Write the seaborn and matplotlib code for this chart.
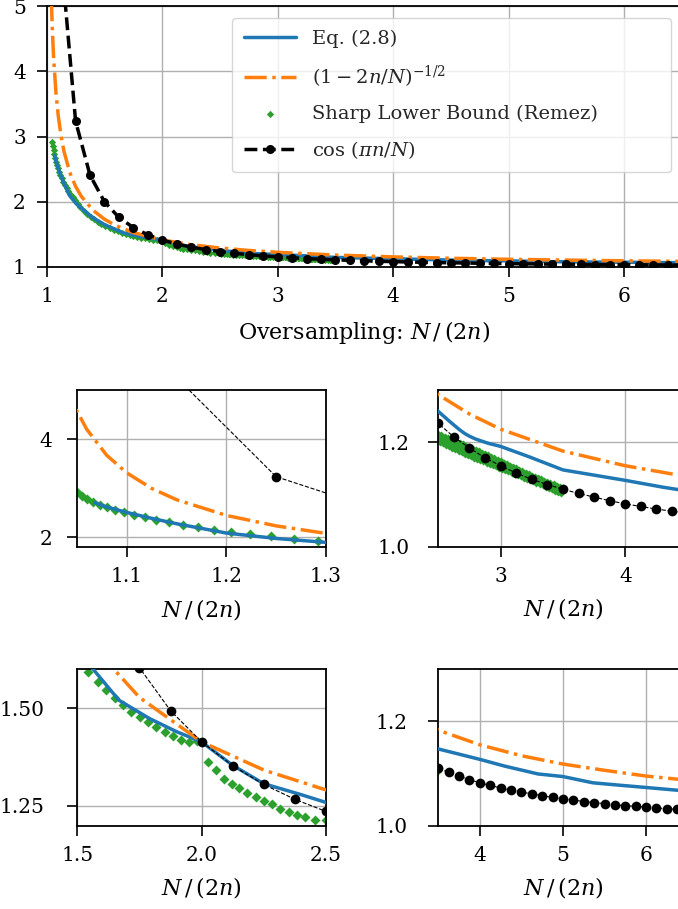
import matplotlib
matplotlib.use("Agg")
import matplotlib.pyplot as plt
import seaborn as sns
import numpy as np
import pandas as pd

# ---------------- data ----------------
# Eq. (2.8)
eq_x = [1.068, 1.08, 1.10, 1.125, 1.15, 1.20, 1.25, 1.30, 1.40, 1.50, 1.564, 1.667,
        1.79, 1.90, 2.00, 2.125, 2.25, 2.40, 2.50, 2.59, 2.67, 2.71, 2.75, 2.80,
        2.90, 3.00, 3.23, 3.50, 4.00, 4.30, 4.70, 5.00, 5.36, 5.64, 6.00, 6.50]
eq_y = [2.71, 2.62, 2.51, 2.39, 2.28, 2.09, 1.98, 1.90, 1.755, 1.65, 1.60, 1.521,
        1.474, 1.44, 1.414, 1.354, 1.307, 1.279, 1.259, 1.240, 1.224, 1.217, 1.2115, 1.206,
        1.198, 1.192, 1.172, 1.147, 1.127, 1.114, 1.099, 1.094, 1.082, 1.078, 1.073, 1.066]

# (1 - 2n/N)^(-1/2)
pw_x = [1.03, 1.04, 1.05, 1.06, 1.08, 1.10, 1.125, 1.15, 1.20, 1.25, 1.30, 1.40,
        1.50, 1.60, 1.75, 2.00, 2.25, 2.50, 2.75, 3.00, 3.50, 4.00, 4.50, 5.00,
        5.50, 6.00, 6.50]
pw_y = [5.859, 5.099, 4.583, 4.203, 3.674, 3.317, 3.000, 2.769, 2.449, 2.236, 2.082, 1.871,
        1.732, 1.633, 1.528, 1.414, 1.342, 1.291, 1.254, 1.225, 1.183, 1.155, 1.134, 1.118,
        1.106, 1.095, 1.087]

# Sharp lower bound (Remez): x < 2.5
rm_x = [1.050, 1.055, 1.060, 1.066, 1.073, 1.080, 1.088, 1.097, 1.107, 1.118, 1.130,
        1.143, 1.157, 1.172, 1.188, 1.205, 1.224, 1.245, 1.268, 1.292, 1.320, 1.350,
        1.380, 1.410, 1.440, 1.470, 1.505, 1.544, 1.584, 1.617, 1.651, 1.684, 1.717,
        1.751, 1.784, 1.817, 1.851, 1.884, 1.917, 1.951, 1.980, 2.000, 2.024, 2.057,
        2.091, 2.124, 2.151, 2.184, 2.217, 2.251, 2.284, 2.317, 2.351, 2.384, 2.417,
        2.457]
rm_y = [2.92, 2.85, 2.79, 2.73, 2.67, 2.61, 2.56, 2.51, 2.46, 2.41, 2.36,
        2.31, 2.26, 2.21, 2.16, 2.12, 2.07, 2.02, 1.97, 1.92, 1.865, 1.815,
        1.77, 1.73, 1.695, 1.66, 1.625, 1.594, 1.568, 1.547, 1.526, 1.509, 1.491,
        1.479, 1.466, 1.451, 1.440, 1.429, 1.420, 1.414, 1.416, 1.414, 1.363, 1.342,
        1.320, 1.307, 1.295, 1.283, 1.273, 1.263, 1.254, 1.243, 1.235, 1.228, 1.222,
        1.213]
# Sharp lower bound (Remez): dense band 2.5 - 3.5 (upper / lower edge of the band)
rm_band_x = [2.5000, 2.5125, 2.5250, 2.5375, 2.5500, 2.5625, 2.5750, 2.5875, 2.6000, 2.6125,
             2.6250, 2.6375, 2.6500, 2.6625, 2.6750, 2.6875, 2.7000, 2.7125, 2.7250, 2.7375,
             2.7500, 2.7625, 2.7750, 2.7875, 2.8000, 2.8125, 2.8250, 2.8375, 2.8500, 2.8625,
             2.8750, 2.8875, 2.9000, 2.9125, 2.9250, 2.9375, 2.9500, 2.9625, 2.9750, 2.9875,
             3.0000, 3.0125, 3.0250, 3.0375, 3.0500, 3.0625, 3.0750, 3.0875, 3.1000, 3.1125,
             3.1250, 3.1375, 3.1500, 3.1625, 3.1750, 3.1875, 3.2000, 3.2125, 3.2250, 3.2375,
             3.2500, 3.2625, 3.2750, 3.2875, 3.3000, 3.3125, 3.3250, 3.3375, 3.3500, 3.3625,
             3.3750, 3.3875, 3.4000, 3.4125, 3.4250, 3.4375, 3.4500, 3.4625, 3.4750, 3.4875,
             3.5000]
rm_band_y = [1.2140, 1.2026, 1.2115, 1.1997, 1.2090, 1.1968, 1.2065, 1.1939, 1.2040, 1.1911,
             1.2015, 1.1882, 1.1990, 1.1853, 1.1965, 1.1824, 1.1940, 1.1798, 1.1913, 1.1774,
             1.1887, 1.1750, 1.1860, 1.1726, 1.1833, 1.1701, 1.1807, 1.1677, 1.1780, 1.1653,
             1.1753, 1.1629, 1.1727, 1.1605, 1.1700, 1.1580, 1.1673, 1.1556, 1.1647, 1.1532,
             1.1620, 1.1508, 1.1592, 1.1484, 1.1563, 1.1460, 1.1535, 1.1436, 1.1507, 1.1412,
             1.1479, 1.1388, 1.1450, 1.1364, 1.1422, 1.1341, 1.1394, 1.1317, 1.1366, 1.1293,
             1.1341, 1.1268, 1.1317, 1.1243, 1.1293, 1.1218, 1.1269, 1.1193, 1.1245, 1.1168,
             1.1220, 1.1143, 1.1196, 1.1118, 1.1172, 1.1093, 1.1148, 1.1068, 1.1124, 1.1043,
             1.1100]

# 1 / cos(pi n / N) at N/(2n) = N/8
cs_x = [1.125, 1.250, 1.375, 1.500, 1.625, 1.750, 1.875, 2.000, 2.125, 2.250, 2.375,
        2.500, 2.625, 2.750, 2.875, 3.000, 3.125, 3.250, 3.375, 3.500, 3.625, 3.750,
        3.875, 4.000, 4.125, 4.250, 4.375, 4.500, 4.625, 4.750, 4.875, 5.000, 5.125,
        5.250, 5.375, 5.500, 5.625, 5.750, 5.875, 6.000, 6.125, 6.250, 6.375, 6.500]
cs_y = [5.759, 3.236, 2.407, 2.000, 1.760, 1.604, 1.494, 1.414, 1.353, 1.305, 1.267,
        1.236, 1.210, 1.189, 1.170, 1.155, 1.141, 1.129, 1.119, 1.110, 1.102, 1.095,
        1.088, 1.082, 1.077, 1.072, 1.068, 1.064, 1.061, 1.057, 1.054, 1.051, 1.049,
        1.046, 1.044, 1.042, 1.040, 1.038, 1.037, 1.035, 1.034, 1.032, 1.031, 1.030]

labels = ["Eq. (2.8)", r"$(1-2n/N)^{-1/2}$", "Sharp Lower Bound (Remez)", r"$\cos\,(\pi n/N)$"]
xlabel_main = r"Oversampling: $N\,/\,(2n)$"
xlabel_sub = r"$N\,/\,(2n)$"

# ---------------- style ----------------
sns.set_style("ticks", {"axes.grid": True})
plt.rcParams["font.family"] = ["DejaVu Serif"]
plt.rcParams["mathtext.fontset"] = "dejavuserif"
plt.rcParams.update({
    "font.size": 14,
    "xtick.labelsize": 14.5,
    "ytick.labelsize": 14.5,
    "axes.labelsize": 16,
    "legend.fontsize": 14,
    "grid.color": "#b0b0b0",
    "grid.linewidth": 1.0,
    "axes.edgecolor": "black",
    "axes.linewidth": 1.3,
    "xtick.major.size": 7,
    "ytick.major.size": 7,
    "xtick.major.width": 1.2,
    "ytick.major.width": 1.2,
    "xtick.major.pad": 7.5,
    "ytick.major.pad": 4,
    "xtick.color": "black",
    "ytick.color": "black",
    "axes.labelcolor": "black",
})

BLUE, ORANGE, GREEN = "#1f77b4", "#ff7f0e", "#2ca02c"

W, H = 678, 909
fig = plt.figure(figsize=(W / 100, H / 100), dpi=100)


def add_ax(left, right, top, bottom):
    return fig.add_axes([left / W, 1 - bottom / H, (right - left) / W, (bottom - top) / H])


def draw(ax, big):
    lw = 2.5
    gx = rm_x + rm_band_x
    gy = rm_y + rm_band_y
    sns.scatterplot(x=gx, y=gy, ax=ax, marker="D", s=14 if big else 26,
                    color=GREEN, linewidth=0, zorder=2, label=labels[2])
    sns.lineplot(x=eq_x, y=eq_y, ax=ax, color=BLUE, lw=lw, sort=False,
                 estimator=None, zorder=3, label=labels[0])
    sns.lineplot(x=pw_x, y=pw_y, ax=ax, color=ORANGE, lw=lw, linestyle="-.", sort=False,
                 estimator=None, zorder=4, label=labels[1])
    sns.lineplot(x=cs_x, y=cs_y, ax=ax, color="black", lw=2.5 if big else 0.8,
                 linestyle="--", marker="o", markersize=6.5 if big else 7,
                 markeredgewidth=0, sort=False, estimator=None, zorder=5, label=labels[3])


# top axis
ax0 = add_ax(46.7, 682, 6, 267)
draw(ax0, True)
ax0.set_xlim(1, 6.5)
ax0.set_ylim(1, 5)
ax0.set_xticks([1, 2, 3, 4, 5, 6])
ax0.set_yticks([1, 2, 3, 4, 5])
ax0.tick_params(axis="y", pad=8)
ax0.set_xlabel(xlabel_main, labelpad=9.5)
h, l = ax0.get_legend_handles_labels()
order = [l.index(s) for s in labels]
ax0.legend([h[i] for i in order], [l[i] for i in order], loc="upper left",
           bbox_to_anchor=(0.2917, 0.0, 0.6910, 0.954), mode="expand",
           borderaxespad=0.0, handlelength=2.7, framealpha=0.8, scatterpoints=1,
           labelspacing=0.8, borderpad=0.6)

specs = [
    (76.7, 326, 390, 547.3, (1.05, 1.3), (1.8, 5.0), [1.1, 1.2, 1.3], [2, 4], 10.5),
    (438.3, 687.6, 390, 546.7, (2.5, 4.5), (1.0, 1.3), [3, 4], [1.0, 1.2], 13.5),
    (77.3, 326, 669.3, 825.5, (1.5, 2.5), (1.2, 1.6), [1.5, 2.0, 2.5], [1.25, 1.50], 16.5),
    (438.3, 687.6, 669.3, 825.5, (3.5, 6.5), (1.0, 1.3), [4, 5, 6], [1.0, 1.2], 15),
]
for (l_, r_, t_, b_, xl, yl, xt, yt, ypad) in specs:
    ax = add_ax(l_, r_, t_, b_)
    draw(ax, False)
    ax.set_xlim(*xl)
    ax.set_ylim(*yl)
    ax.set_xticks(xt)
    ax.set_yticks(yt)
    ax.tick_params(axis="y", pad=ypad)
    ax.set_xlabel(xlabel_sub, labelpad=7.5)
    ax.get_legend().remove()

fig.savefig("out.png", dpi=100)
